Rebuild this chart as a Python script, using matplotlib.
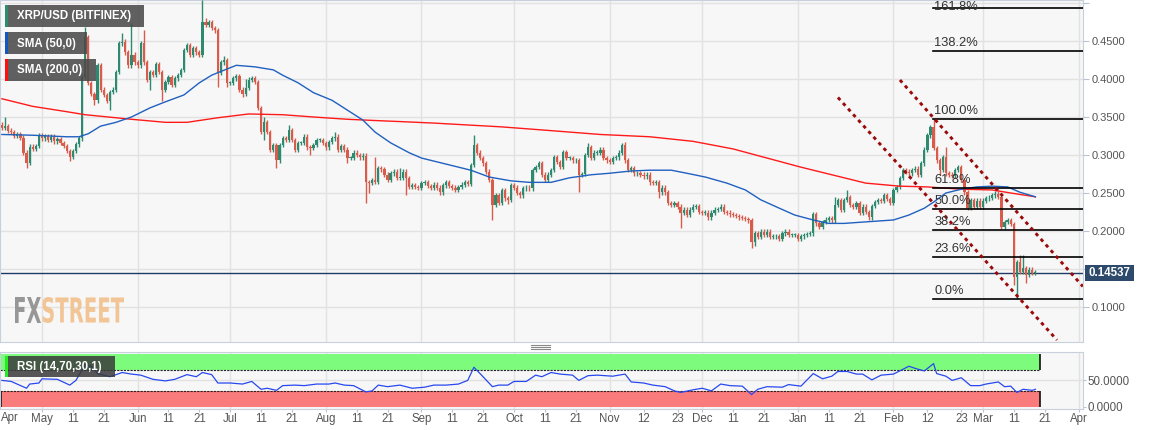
import numpy as np
import pandas as pd
import matplotlib
matplotlib.use("Agg")
import matplotlib.pyplot as plt
from matplotlib.patches import Rectangle, PathPatch
from matplotlib.textpath import TextPath
from matplotlib.font_manager import FontProperties
from matplotlib.transforms import Affine2D
from matplotlib.ticker import FormatStrFormatter

plt.rcParams['font.family'] = ['Liberation Sans', 'DejaVu Sans']

# daily candles, first one on 2019-04-18
start_date = pd.Timestamp("2019-04-18")
first_open = 0.340
closes = [
    0.336, 0.338, 0.332, 0.330, 0.325, 0.327, 0.323, 0.303, 0.290, 0.311,
    0.308, 0.312, 0.326, 0.322, 0.325, 0.320, 0.324, 0.318, 0.321, 0.316,
    0.312, 0.305, 0.298, 0.305, 0.314, 0.322, 0.403, 0.455, 0.395, 0.380,
    0.372, 0.418, 0.386, 0.379, 0.371, 0.383, 0.386, 0.409, 0.447, 0.449,
    0.435, 0.418, 0.432, 0.422, 0.418, 0.447, 0.422, 0.399, 0.409, 0.405,
    0.420, 0.409, 0.386, 0.396, 0.402, 0.392, 0.401, 0.405, 0.412, 0.438,
    0.445, 0.432, 0.441, 0.435, 0.432, 0.475, 0.471, 0.475, 0.467, 0.464,
    0.408, 0.422, 0.425, 0.395, 0.395, 0.401, 0.404, 0.386, 0.380, 0.388,
    0.399, 0.401, 0.396, 0.362, 0.330, 0.343, 0.330, 0.307, 0.313, 0.293,
    0.313, 0.322, 0.320, 0.333, 0.320, 0.307, 0.316, 0.316, 0.324, 0.310,
    0.309, 0.313, 0.320, 0.320, 0.316, 0.310, 0.317, 0.322, 0.324, 0.307,
    0.312, 0.307, 0.296, 0.296, 0.303, 0.300, 0.297, 0.299, 0.264, 0.263,
    0.267, 0.265, 0.283, 0.281, 0.274, 0.267, 0.276, 0.278, 0.270, 0.270,
    0.278, 0.270, 0.258, 0.260, 0.258, 0.257, 0.263, 0.264, 0.259, 0.257,
    0.261, 0.257, 0.251, 0.260, 0.264, 0.259, 0.257, 0.254, 0.258, 0.261,
    0.264, 0.262, 0.287, 0.313, 0.303, 0.296, 0.289, 0.278, 0.267, 0.234,
    0.247, 0.237, 0.254, 0.243, 0.241, 0.260, 0.257, 0.250, 0.247, 0.256,
    0.257, 0.256, 0.280, 0.284, 0.289, 0.274, 0.267, 0.274, 0.280, 0.297,
    0.291, 0.284, 0.304, 0.296, 0.296, 0.293, 0.293, 0.274, 0.275, 0.300,
    0.310, 0.296, 0.303, 0.303, 0.307, 0.296, 0.293, 0.291, 0.296, 0.297,
    0.303, 0.313, 0.293, 0.280, 0.283, 0.276, 0.276, 0.274, 0.272, 0.274,
    0.264, 0.263, 0.264, 0.251, 0.257, 0.251, 0.237, 0.234, 0.237, 0.232,
    0.224, 0.228, 0.221, 0.228, 0.232, 0.233, 0.225, 0.224, 0.224, 0.218,
    0.224, 0.228, 0.229, 0.232, 0.225, 0.224, 0.222, 0.221, 0.220, 0.218,
    0.217, 0.216, 0.214, 0.186, 0.197, 0.192, 0.199, 0.195, 0.199, 0.192,
    0.193, 0.193, 0.190, 0.197, 0.199, 0.195, 0.195, 0.195, 0.190, 0.193,
    0.195, 0.196, 0.197, 0.222, 0.210, 0.205, 0.212, 0.215, 0.217, 0.214,
    0.234, 0.241, 0.228, 0.241, 0.245, 0.234, 0.232, 0.237, 0.224, 0.232,
    0.225, 0.218, 0.233, 0.238, 0.241, 0.240, 0.247, 0.242, 0.237, 0.254,
    0.258, 0.270, 0.280, 0.278, 0.276, 0.280, 0.282, 0.274, 0.289, 0.307,
    0.326, 0.337, 0.309, 0.293, 0.280, 0.297, 0.276, 0.274, 0.273, 0.280,
    0.284, 0.267, 0.251, 0.230, 0.241, 0.232, 0.240, 0.232, 0.240, 0.243,
    0.244, 0.247, 0.249, 0.245, 0.205, 0.212, 0.214, 0.209, 0.140, 0.159,
    0.146, 0.151, 0.142, 0.149, 0.145, 0.14537,
]
# visible long wicks (candle index -> price)
wick_high = {1: 0.350, 27: 0.468, 39: 0.461, 42: 0.474, 46: 0.465, 65: 0.504,
             66: 0.480, 72: 0.430, 79: 0.400, 85: 0.350, 93: 0.340, 99: 0.327,
             108: 0.330, 121: 0.297, 129: 0.283, 153: 0.326, 190: 0.316,
             202: 0.317, 263: 0.224, 270: 0.245, 274: 0.254, 302: 0.347,
             306: 0.310, 330: 0.168, 331: 0.168}
wick_low = {8: 0.283, 22: 0.292, 30: 0.366, 35: 0.359, 48: 0.386, 52: 0.371,
            70: 0.390, 73: 0.390, 78: 0.376, 85: 0.320, 89: 0.283, 100: 0.300,
            112: 0.290, 118: 0.237, 119: 0.250, 131: 0.247, 159: 0.214,
            161: 0.234, 164: 0.235, 187: 0.251, 213: 0.243, 220: 0.204,
            243: 0.178, 244: 0.180, 304: 0.274, 328: 0.129, 329: 0.1105,
            332: 0.132}
WICK = 0.003  # short wick drawn where none could be read

sma50_idx = [0, 10, 21, 25, 28, 32, 37, 42, 48, 53, 59, 64, 68, 71, 76, 82, 88,
             91, 96, 101, 107, 112, 117, 121, 126, 132, 136, 140, 145, 152, 158,
             165, 171, 178, 184, 191, 197, 204, 210, 217, 222, 228, 235, 241,
             246, 252, 257, 263, 268, 273, 280, 289, 294, 299, 302, 306, 311,
             316, 321, 326, 330, 335]
sma50_val = [0.327, 0.326, 0.324, 0.324, 0.328, 0.338, 0.343, 0.350, 0.362,
             0.370, 0.379, 0.395, 0.405, 0.410, 0.418, 0.416, 0.412, 0.405,
             0.395, 0.382, 0.372, 0.359, 0.346, 0.330, 0.316, 0.303, 0.296,
             0.292, 0.287, 0.280, 0.271, 0.266, 0.264, 0.264, 0.270, 0.274,
             0.276, 0.279, 0.280, 0.280, 0.276, 0.271, 0.263, 0.254, 0.241,
             0.230, 0.221, 0.2145, 0.210, 0.210, 0.212, 0.2145, 0.221, 0.230,
             0.238, 0.250, 0.255, 0.258, 0.259, 0.258, 0.251, 0.245]
sma200_idx = [0, 10, 21, 27, 32, 42, 53, 60, 70, 80, 91, 101, 112, 123, 129,
              140, 162, 175, 194, 210, 224, 237, 259, 280, 291, 300, 311, 321,
              327, 335]
sma200_val = [0.374, 0.364, 0.357, 0.353, 0.351, 0.347, 0.343, 0.343, 0.349,
              0.354, 0.353, 0.350, 0.347, 0.345, 0.344, 0.342, 0.337, 0.333,
              0.327, 0.324, 0.318, 0.308, 0.284, 0.263, 0.259, 0.258, 0.255,
              0.254, 0.250, 0.245]

rsi_idx = [0, 3, 8, 9, 12, 13, 18, 22, 24, 27, 29, 31, 35, 39, 42, 45, 49, 53,
           56, 60, 63, 65, 68, 70, 74, 78, 81, 84, 86, 89, 91, 95, 98, 102, 106,
           108, 111, 114, 118, 120, 122, 125, 129, 133, 137, 140, 144, 148, 151,
           153, 155, 159, 161, 164, 166, 170, 173, 175, 178, 181, 185, 187, 190,
           193, 198, 202, 204, 208, 211, 215, 218, 220, 224, 227, 230, 233, 236,
           240, 243, 245, 248, 253, 255, 259, 263, 266, 269, 271, 274, 277, 279,
           282, 285, 289, 291, 294, 296, 299, 302, 303, 306, 308, 311, 314, 317,
           319, 323, 325, 327, 329, 331, 334, 335]
rsi_val = [50, 48, 35, 43, 45, 53, 52, 41, 50, 80, 77, 63, 57, 65, 62, 60, 52,
           49, 52, 61, 57, 65, 61, 45, 45, 43, 48, 33, 35, 31, 40, 41, 40, 43,
           43, 45, 41, 40, 28, 30, 41, 38, 41, 35, 37, 41, 41, 43, 50, 75, 63,
           38, 41, 41, 48, 48, 60, 57, 65, 62, 60, 50, 59, 60, 58, 62, 47, 45,
           41, 38, 30, 27, 32, 35, 30, 43, 40, 39, 23, 33, 38, 37, 42, 39, 63,
           53, 58, 67, 67, 62, 62, 51, 60, 62, 68, 77, 73, 68, 82, 63, 58, 50,
           55, 40, 40, 43, 47, 38, 39, 27, 33, 31, 33]

fib_low, fib_high = 0.1105, 0.347
fib_pcts = [0.0, 23.6, 38.2, 50.0, 61.8, 100.0, 138.2, 161.8]
# dotted channel, (candle index, price) end points
channel_upper = [(291.1, 0.3987), (350.4, 0.1270)]
channel_lower = [(271.0, 0.3757), (342.0, 0.0566)]
last_price = 0.14537

tick_dates = ["2019-05-01", "2019-05-11", "2019-05-21", "2019-06-01", "2019-06-11",
              "2019-06-21", "2019-07-01", "2019-07-11", "2019-07-21", "2019-08-01",
              "2019-08-11", "2019-08-21", "2019-09-01", "2019-09-11", "2019-09-21",
              "2019-10-01", "2019-10-11", "2019-10-21", "2019-11-01", "2019-11-12",
              "2019-11-23", "2019-12-01", "2019-12-11", "2019-12-21", "2020-01-01",
              "2020-01-11", "2020-01-21", "2020-02-01", "2020-02-12", "2020-02-23",
              "2020-03-01", "2020-03-11", "2020-03-21", "2020-04-01"]

# ---------------------------------------------------------------
GREEN = '#2e8a6e'
RED = '#d95b4b'
BG = '#f7f7f7'
GRID = '#e2e2e2'
SPINE = '#c8d0de'
TXT = '#555555'
W, H = 1153, 430
PX_PER_DAY = 3.085
X0 = -1.9 / PX_PER_DAY
X1 = X0 + 1083 / PX_PER_DAY

closes = np.array(closes)
n = len(closes)
idx = np.arange(n)
opens = np.concatenate([[first_open], closes[:-1]])
highs = np.maximum(opens, closes) + WICK
lows = np.minimum(opens, closes) - WICK
for k, v in wick_high.items():
    highs[k] = max(highs[k], v)
for k, v in wick_low.items():
    lows[k] = min(lows[k], v)
colors = np.where(closes >= opens, GREEN, RED)

tick_ts = [pd.Timestamp(d) for d in tick_dates]
tick_idx = [(t - start_date).days for t in tick_ts]
tick_lbl = [t.strftime('%b') if t.day == 1 else str(t.day) for t in tick_ts]
month_idx = [i for i, t in zip(tick_idx, tick_ts) if t.day == 1]

fig = plt.figure(figsize=(W / 100, H / 100), dpi=100)
fig.patch.set_facecolor('white')
ax = fig.add_axes([0, (H - 342) / H, 1083 / W, 342 / H])
rsi = fig.add_axes([0, (H - 409) / H, 1083 / W, 56.6 / H])

# ---- main price panel
ax.set_facecolor(BG)
ax.set_xlim(X0, X1)
ax.set_ylim(0.45 - 301 / 760, 0.45 + 41 / 760)
for m in month_idx:
    ax.axvline(m, color=GRID, lw=1, zorder=0)
ax.set_yticks(np.arange(0.10, 0.501, 0.05))
ylbls = ['%.4f' % v for v in np.arange(0.10, 0.501, 0.05)]
ylbls[1] = ''
ylbls[-1] = ''
ax.set_yticklabels(ylbls)
ax.yaxis.tick_right()
ax.grid(axis='y', color=GRID, lw=1, zorder=0)
ax.set_axisbelow(True)
ax.tick_params(axis='y', length=4, color='#b9c3d6', labelsize=8,
               labelcolor=TXT, pad=2)
ax.set_xticks([])
for s in ax.spines.values():
    s.set_color(SPINE)

ax.axhline(last_price, color='#1e3a66', lw=1, zorder=2)
ax.vlines(idx, lows, highs, colors=colors, lw=1, zorder=3)
body_bot = np.minimum(opens, closes)
body_h = np.maximum(np.abs(closes - opens), 0.0009)
ax.bar(idx, body_h, bottom=body_bot, width=0.72, color=colors, lw=0, zorder=3)

ax.plot(sma200_idx, sma200_val, color='#ff1a1a', lw=1.0, zorder=4)
ax.plot(sma50_idx, sma50_val, color='#2060c0', lw=1.0, zorder=4)

fib_start = (936 - 1.9) / PX_PER_DAY - 0.9
for p in fib_pcts:
    lvl = fib_low + p / 100 * (fib_high - fib_low)
    ax.plot([fib_start, X1], [lvl, lvl], color='black', lw=1.2, zorder=5)
    if p > 150:
        # top level sits at the panel edge: keep its label inside the panel
        ax.annotate('%.1f%%' % p, (fib_start + 0.3, 1.0), xycoords=('data', 'axes fraction'),
                    xytext=(0, -0.5), textcoords='offset points', fontsize=9.3,
                    color='#333333', va='top', ha='left', zorder=6)
    else:
        ax.annotate('%.1f%%' % p, (fib_start + 0.3, lvl), xytext=(0, 1.5),
                    textcoords='offset points', fontsize=9.3, color='#333333',
                    va='bottom', ha='left', zorder=6)

for line in (channel_upper, channel_lower):
    xs, ys = zip(*line)
    ax.plot(xs, ys, color='#9b0a0a', lw=2.1, ls=(0, (1.2, 1.4)),
            solid_capstyle='butt', dash_capstyle='butt', zorder=5)

# ---- RSI panel
rsi.set_facecolor(BG)
rsi.set_xlim(X0, X1)
rsi.set_ylim(-4.6, 103.4)
for m in month_idx:
    rsi.axvline(m, color=GRID, lw=1, zorder=0)
rsi.axhline(50, color=GRID, lw=1, zorder=0)
band_end = (1040 - 1.9) / PX_PER_DAY
rsi.fill_between([X0, band_end], 70, 100, color='#7dfb7d', lw=0, zorder=1)
rsi.fill_between([X0, band_end], 0, 30, color='#fa7b7b', lw=0, zorder=1)
rsi.hlines([70, 30], X0, band_end, colors='#222222', lw=0.8,
           linestyles=(0, (2, 1)), zorder=2)
rsi.vlines([band_end, band_end], [70, 0], [100, 30], colors='#111111', lw=1.2, zorder=2)
rsi.vlines([X0 + 0.3], [0], [30], colors='#111111', lw=1.2, zorder=2)
rsi.plot(rsi_idx, rsi_val, color='#2848f0', lw=0.9, zorder=3)
rsi.yaxis.tick_right()
rsi.set_yticks([0, 50])
rsi.set_yticklabels(['0.0000', '50.0000'])
rsi.set_xticks(tick_idx)
rsi.set_xticklabels(tick_lbl)
rsi.tick_params(axis='both', length=2.5, color='#b9c3d6', labelsize=8.3,
                labelcolor=TXT, pad=1)
rsi.tick_params(axis='x', pad=0.3)
for s in rsi.spines.values():
    s.set_color(SPINE)

# ---- overlay in pixel units (y down)
ov = fig.add_axes([0, 0, 1, 1], zorder=10)
ov.set_xlim(0, W)
ov.set_ylim(H, 0)
ov.axis('off')

ov.text(10, 417.5, 'Apr', fontsize=8.3, color=TXT, ha='center', va='center')

legend = [("XRP/USD (BITFINEX)", 5, 139, GREEN),
          ("SMA (50,0)", 32, 82, '#1556c0'),
          ("SMA (200,0)", 59, 91, '#ff1010')]
for label, top, width, col in legend:
    ov.add_patch(Rectangle((5, top), width, 22, color='#4b4b4b', alpha=0.88, lw=0))
    ov.add_patch(Rectangle((5, top), 2.5, 22, color=col, lw=0))
    ov.text(17, top + 11.5, label, color='white', fontsize=8.3,
            fontweight='bold', va='center', ha='left')

ov.add_patch(Rectangle((5, 356), 110, 21, color='#3a3a3a', alpha=0.85, lw=0))
ov.add_patch(Rectangle((5, 356), 2.5, 21, color='#22ee22', lw=0))
ov.text(17, 367, 'RSI (14,70,30,1)', color='white', fontsize=8.3,
        fontweight='bold', va='center', ha='left')

# price tag
ov.add_patch(Rectangle((1085, 264.5), 49, 16.5, color='#2d4a6c', lw=0))
ov.text(1109.5, 273, '%.5f' % last_price, color='white', fontsize=8.3,
        fontweight='bold', ha='center', va='center')

# panel handle
for yy in (344.5, 346.5, 348.5):
    ov.plot([531, 550], [yy, yy], color='#888888', lw=0.8)

# FXSTREET watermark
fp = FontProperties(family='DejaVu Sans', weight='bold')
for word, x_left, x_right, col in (("FX", 15, 41, '#8d8d8d'),
                                   ("STREET", 42.5, 124, '#f1c08a')):
    tp = TextPath((0, 0), word, size=10, prop=fp)
    ext = tp.get_extents()
    sx = (x_right - x_left) / ext.width
    sy = 26 / ext.height
    tr = Affine2D().translate(-ext.x0, -ext.y0).scale(sx, -sy).translate(x_left, 323)
    ov.add_patch(PathPatch(tr.transform_path(tp), color=col, lw=0, alpha=0.9))

fig.savefig("out.png", dpi=100, facecolor='white')
